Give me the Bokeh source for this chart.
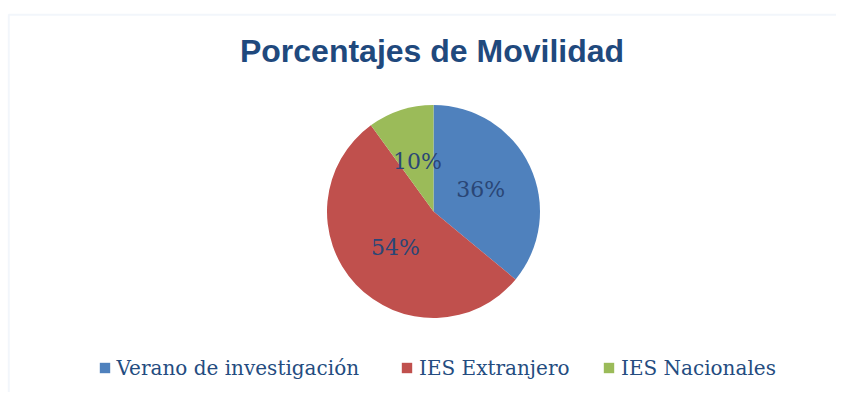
import math
from bokeh.plotting import figure
from bokeh.models import Range1d, Label, Legend, LegendItem, BoxAnnotation, ColumnDataSource
from bokeh.core.properties import value
from bokeh.embed import file_html
from bokeh.resources import INLINE

# ---- data ----
categories = ["Verano de investigación", "IES Extranjero", "IES Nacionales"]
percentages = [36, 54, 10]
labels = ["36%", "54%", "10%"]
colors = ["#4F81BD", "#C0504D", "#9BBB59"]
title_text = "Porcentajes de Movilidad"

W, H = 836, 392
p = figure(width=W, height=H, output_backend="svg", toolbar_location=None,
           x_range=Range1d(0, W), y_range=Range1d(0, H),
           min_border=0, min_border_left=0, min_border_right=0,
           min_border_top=0, min_border_bottom=0)
p.axis.visible = False
p.grid.visible = False
p.outline_line_color = None
p.background_fill_color = "white"
p.border_fill_color = "white"

# chart frame border (light blue)
p.add_layout(BoxAnnotation(left=8.3, right=3000, top=H - 14.3, bottom=-500,
                           fill_alpha=0, line_color="#D5E2F1", line_width=2))

# pie geometry
cx, cy, r = 433, H - 211, 106.5
total = sum(percentages)
starts, ends, lx, ly = [], [], [], []
cum = 0.0
for v in percentages:
    a0 = math.pi / 2 - 2 * math.pi * cum / total
    cum += v
    a1 = math.pi / 2 - 2 * math.pi * cum / total
    starts.append(a0)
    ends.append(a1)
    mid = (a0 + a1) / 2
    lx.append(cx + 0.49 * r * math.cos(mid))
    ly.append(cy + 0.49 * r * math.sin(mid))

src = ColumnDataSource(dict(start=starts, end=ends, color=colors, cat=categories,
                            lx=lx, ly=ly, lab=labels))
wr = p.wedge(x=cx, y=cy, radius=r, start_angle="start", end_angle="end",
             direction="clock", fill_color="color", line_color=None, source=src)

p.text(x="lx", y="ly", text="lab", source=src, text_align="center",
       text_baseline="middle", text_font=value("DejaVu Serif"),
       text_font_size="22px", text_color="#2A4676")

# title
p.add_layout(Label(x=431.5, y=H - 50, text=title_text, text_align="center",
                   text_baseline="alphabetic", text_font="Liberation Sans",
                   text_font_style="bold", text_font_size="32px",
                   text_color="#1F497D"))

# legends, one per item
leg_x = [97.5, 400.0, 602.0]
row_h = 24
row_center_from_bottom = H - 367.5
for i, cat in enumerate(categories):
    lg = Legend(items=[LegendItem(label=cat, renderers=[wr], index=i)],
                location=(leg_x[i], row_center_from_bottom - row_h / 2),
                orientation="horizontal", padding=0, margin=0, spacing=0,
                border_line_color=None, background_fill_alpha=0,
                glyph_width=13, glyph_height=13, label_standoff=6,
                label_height=row_h,
                label_text_font="DejaVu Serif", label_text_font_size="20px",
                label_text_color="#244C80")
    p.add_layout(lg)

open("out.html", "w").write(file_html(p, INLINE))
